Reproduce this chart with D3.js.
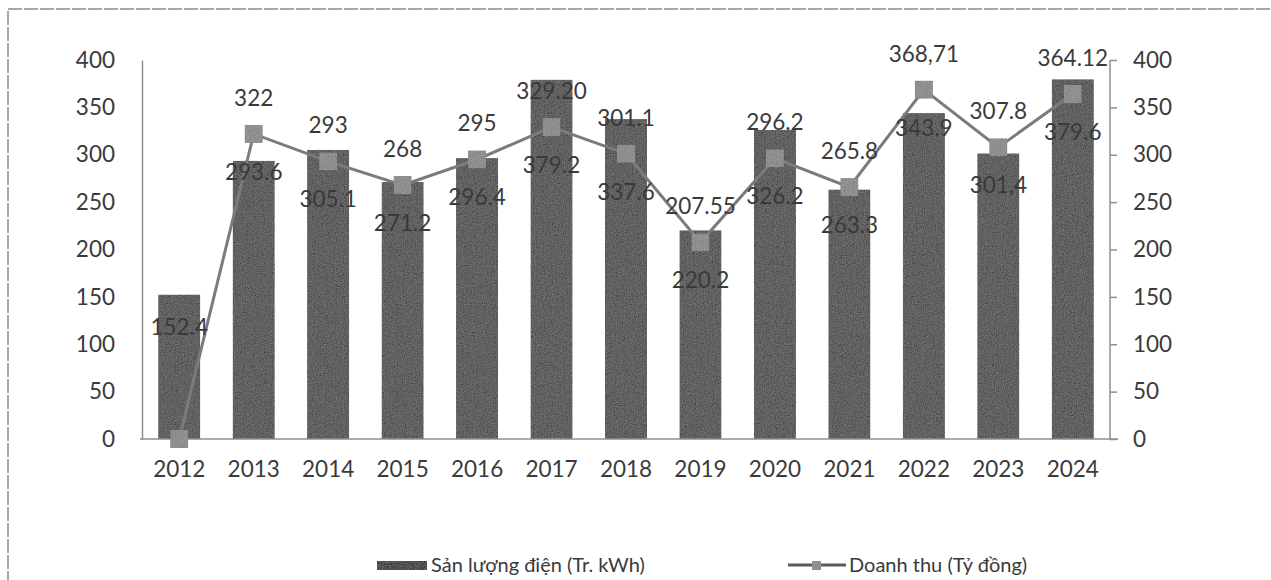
<!DOCTYPE html>
<html>
<head>
<meta charset="utf-8">
<script src="https://cdn.jsdelivr.net/npm/d3@7"></script>
<style>
  body { margin: 0; background: #fff; }
  text { font-family: Lato, "Open Sans", sans-serif; fill: #3a3a3a; }
</style>
</head>
<body>
<div id="chart"></div>
<script>
// data
var years = ["2012","2013","2014","2015","2016","2017","2018","2019","2020","2021","2022","2023","2024"];
var sanLuong = [152.4, 293.6, 305.1, 271.2, 296.4, 379.2, 337.6, 220.2, 326.2, 263.3, 343.9, 301.4, 379.6];
var sanLuongLabels = ["152.4","293.6","305.1","271.2","296.4","379.2","337.6","220.2","326.2","263.3","343.9","301,4","379.6"];
var doanhThu = [0, 322, 293, 268, 295, 329.2, 301.1, 207.55, 296.2, 265.8, 368.71, 307.8, 364.12];
var doanhThuLabels = ["", "322","293","268","295","329.20","301.1","207.55","296.2","265.8","368,71","307.8","364.12"];
var yTicks = [0, 50, 100, 150, 200, 250, 300, 350, 400];

var width = 1271, height = 580;
var pLeft = 142, pRight = 1110, pTop = 60, pBottom = 439;
var fs = "22.5px";

var svg = d3.select("#chart").append("svg")
    .attr("width", width)
    .attr("height", height);

var defs = svg.append("defs");
// grainy print look for the bars / markers
var f = defs.append("filter").attr("id", "grain").attr("x", 0).attr("y", 0).attr("width", 1).attr("height", 1);
f.append("feTurbulence").attr("type", "fractalNoise").attr("baseFrequency", 0.9).attr("numOctaves", 2).attr("seed", 3).attr("result", "n");
f.append("feColorMatrix").attr("in", "n").attr("type", "matrix")
  .attr("values", "0.33 0.33 0.33 0 0  0.33 0.33 0.33 0 0  0.33 0.33 0.33 0 0  0 0 0 0 1")
  .attr("result", "g");
f.append("feComposite").attr("in", "SourceGraphic").attr("in2", "g").attr("operator", "arithmetic")
  .attr("k1", 0).attr("k2", 1).attr("k3", 0.35).attr("k4", -0.17).attr("result", "m");
f.append("feComposite").attr("in", "m").attr("in2", "SourceGraphic").attr("operator", "in");

// frame
svg.append("rect")
    .attr("x", 8).attr("y", 9)
    .attr("width", 1300).attr("height", 620)
    .attr("fill", "none")
    .attr("stroke", "#8a8a8a")
    .attr("stroke-width", 1.5)
    .attr("stroke-dasharray", "14 2");

var x = d3.scaleBand().domain(years).range([pLeft, pRight]).paddingInner(0.436).paddingOuter(0.218);
var y = d3.scaleLinear().domain([0, 400]).range([pBottom, pTop]);
var y2 = d3.scaleLinear().domain([0, 400]).range([pBottom, pTop]);

// left axis
var gl = svg.append("g").attr("transform", "translate(" + pLeft + ",0)")
    .call(d3.axisLeft(y).tickValues(yTicks).tickSize(0).tickPadding(27));
gl.select(".domain").attr("stroke", "#8f8f8f").attr("stroke-width", 1.5);
gl.selectAll("text").style("font-size", fs).style("font-family", "Lato, 'Open Sans', sans-serif").attr("fill", "#3a3a3a");

// right axis
var gr = svg.append("g").attr("transform", "translate(" + pRight + ",0)")
    .call(d3.axisRight(y2).tickValues(yTicks).tickSize(7).tickPadding(16));
gr.select(".domain").attr("stroke", "#8f8f8f").attr("stroke-width", 1.5).attr("d", "M0," + pTop + "V" + pBottom);
gr.selectAll("line").attr("stroke", "#8f8f8f").attr("stroke-width", 1.5);
gr.selectAll("text").style("font-size", fs).style("font-family", "Lato, 'Open Sans', sans-serif").attr("fill", "#3a3a3a");

// bars
svg.append("g").selectAll("rect")
    .data(years)
    .enter().append("rect")
      .attr("x", function(d) { return x(d); })
      .attr("y", function(d, i) { return y(sanLuong[i]); })
      .attr("width", x.bandwidth())
      .attr("height", function(d, i) { return pBottom - y(sanLuong[i]); })
      .attr("fill", "#606060")
      .attr("filter", "url(#grain)");

// x axis
var gx = svg.append("g").attr("transform", "translate(0," + pBottom + ")")
    .call(d3.axisBottom(x).tickSize(0).tickPadding(22));
gx.select(".domain").attr("stroke", "#8f8f8f").attr("stroke-width", 1.5).attr("d", "M" + (pLeft - 2) + ",0H" + (pRight + 8));
gx.selectAll("text").style("font-size", fs).style("font-family", "Lato, 'Open Sans', sans-serif").attr("fill", "#3a3a3a");

// line
var cx = function(d, i) { return x(years[i]) + x.bandwidth() / 2; };
var line = d3.line()
    .x(function(d, i) { return cx(d, i); })
    .y(function(d) { return y2(d); });

svg.append("path")
    .datum(doanhThu)
    .attr("d", line)
    .attr("fill", "none")
    .attr("stroke", "#7b7b7b")
    .attr("stroke-width", 3);

svg.append("g").selectAll("rect")
    .data(doanhThu)
    .enter().append("rect")
      .attr("x", function(d, i) { return cx(d, i) - 9; })
      .attr("y", function(d) { return y2(d) - 9; })
      .attr("width", 18)
      .attr("height", 18)
      .attr("fill", "#8e8e8e")
      .attr("filter", "url(#grain)");

// labels for the line (above the marker)
svg.append("g").selectAll("text")
    .data(doanhThu)
    .enter().append("text")
      .attr("x", function(d, i) { return cx(d, i); })
      .attr("y", function(d) { return y2(d) - 28; })
      .attr("text-anchor", "middle")
      .style("font-size", fs)
      .text(function(d, i) { return doanhThuLabels[i]; });

// labels for the bars (under the marker, or inside the bar top)
svg.append("g").selectAll("text")
    .data(sanLuong)
    .enter().append("text")
      .attr("x", function(d, i) { return cx(d, i); })
      .attr("y", function(d, i) {
        var yy = y2(doanhThu[i]) + 46;
        if (yy > pBottom - 30) yy = y(d) + 40;
        return yy;
      })
      .attr("text-anchor", "middle")
      .style("font-size", fs)
      .text(function(d, i) { return sanLuongLabels[i]; });

// legend
var lg = svg.append("g");
lg.append("rect")
    .attr("x", 377).attr("y", 561)
    .attr("width", 50).attr("height", 9)
    .attr("fill", "#505050")
    .attr("filter", "url(#grain)");
lg.append("text")
    .attr("x", 431).attr("y", 572)
    .style("font-size", "20px")
    .text("Sản lượng điện (Tr. kWh)");

lg.append("line")
    .attr("x1", 788).attr("x2", 846)
    .attr("y1", 565).attr("y2", 565)
    .attr("stroke", "#5a5a5a").attr("stroke-width", 3);
lg.append("rect")
    .attr("x", 812).attr("y", 561)
    .attr("width", 9).attr("height", 9)
    .attr("fill", "#8e8e8e");
lg.append("text")
    .attr("x", 849).attr("y", 572)
    .style("font-size", "20px")
    .text("Doanh thu (Tỷ đồng)");
</script>
</body>
</html>
